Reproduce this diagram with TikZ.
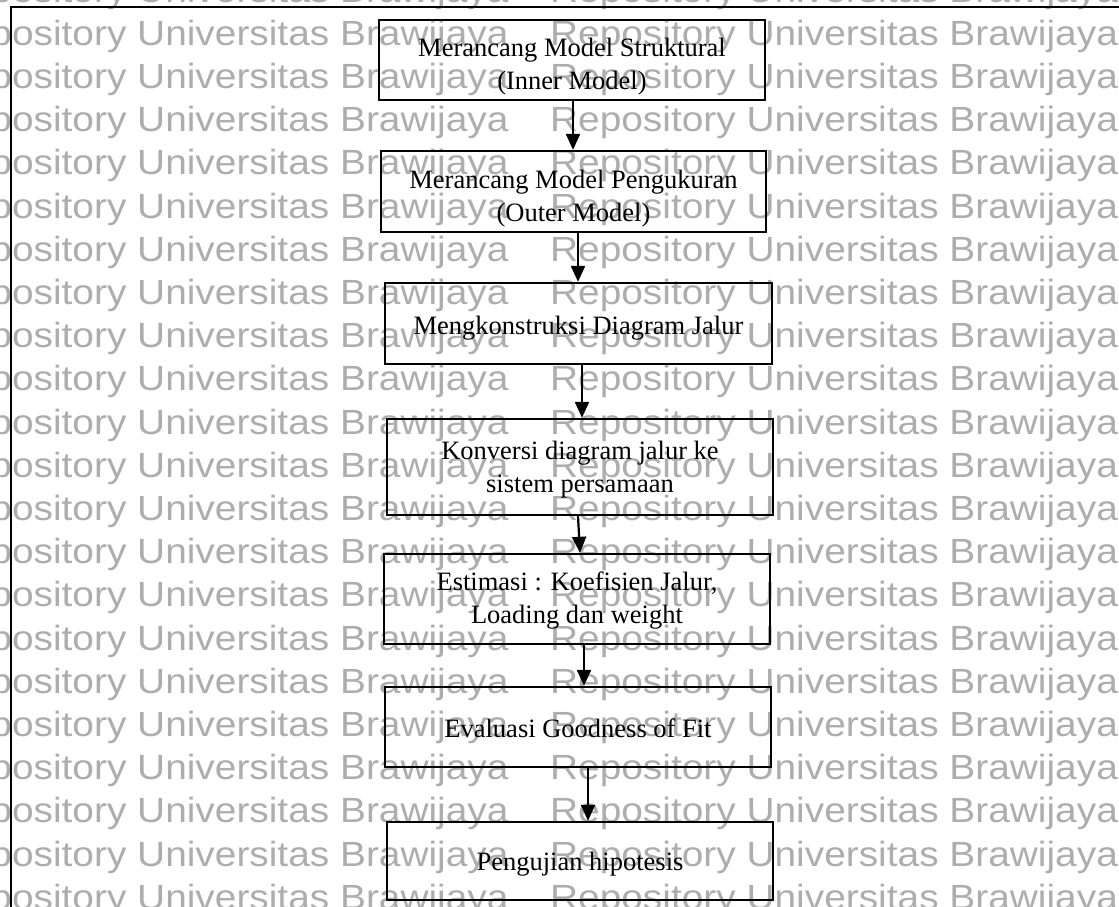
\documentclass[tikz,border=0pt]{standalone}
\usepackage{fontspec}
\setmainfont{Liberation Serif}
\newfontfamily\wmfont[FakeStretch=1.11]{Liberation Sans}
\usetikzlibrary{arrows.meta}
\definecolor{wmgray}{gray}{0.68}
\begin{document}
\begin{tikzpicture}[x=1pt,y=-1pt,
  stepbox/.style={draw, line width=2.4pt, minimum width=386pt, inner sep=0pt},
  steptext/.style={align=center, inner sep=0pt, font=\fontsize{26.5}{33}\selectfont},
  arr/.style={line width=2.2pt, -{Triangle[width=14pt,length=16pt]}},
  wm/.style={anchor=base west, text=wmgray, inner sep=0pt,
    font=\wmfont\fontsize{35}{35}\selectfont}]
\useasboundingbox (0,0) rectangle (1119,906);
% watermark rows
\foreach \k in {0,...,21} {
  \node[wm] (wm\k) at (340, 2+43.2*\k)
    {\llap{Repository Universitas }Brawijaya\hspace{41.6pt}Repository Universitas Brawijaya};
}
% page frame
\draw[line width=2pt] (1125,7) -- (11,7) -- (11,915);
% process steps
\node[stepbox, minimum height=80pt] (b1) at (572,60) {};
\node[stepbox, minimum width=385pt, minimum height=81pt] (b2) at (573.5,191.5) {};
\node[stepbox, minimum width=387pt, minimum height=81pt] (b3) at (578.5,323.5) {};
\node[stepbox, minimum height=96pt] (b4) at (580,467) {};
\node[stepbox, minimum height=90pt] (b5) at (577,599) {};
\node[stepbox, minimum height=80pt] (b6) at (578,727) {};
\node[stepbox, minimum height=78pt] (b7) at (580,861) {};
% step labels
\node[steptext] (t1) at ([yshift=-7pt]b1.center) {Merancang Model Struktural\\(Inner Model)};
\node[steptext] (t2) at ([yshift=-7pt]b2.center) {Merancang Model Pengukuran\\(Outer Model)};
\node[steptext] (t3) at ([yshift=-5pt]b3.center) {Mengkonstruksi Diagram Jalur};
\node[steptext] (t4) at ([yshift=-2.5pt]b4.center) {Konversi diagram jalur ke\\sistem persamaan};
\node[steptext] (t5) at ([yshift=-2pt]b5.center) {Estimasi : Koefisien Jalur,\\Loading dan weight};
\node[steptext] (t6) at ([yshift=-1pt]b6.center) {Evaluasi Goodness of Fit};
\node[steptext] (t7) at ([yshift=-3pt]b7.center) {Pengujian hipotesis};
% flow
\draw[arr] ([xshift=1pt]b1.south) -- ([xshift=-0.5pt]b2.north);
\draw[arr] ([xshift=4.5pt]b2.south) -- ([xshift=-0.5pt]b3.north);
\draw[arr] ([xshift=3.5pt]b3.south) -- ([xshift=2pt]b4.north);
\draw[arr] ([xshift=-2pt]b4.south) -- ([xshift=3pt]b5.north);
\draw[arr] ([xshift=7pt]b5.south) -- ([xshift=6pt]b6.north);
\draw[arr] ([xshift=10pt]b6.south) -- ([xshift=8pt]b7.north);
\end{tikzpicture}
\end{document}
